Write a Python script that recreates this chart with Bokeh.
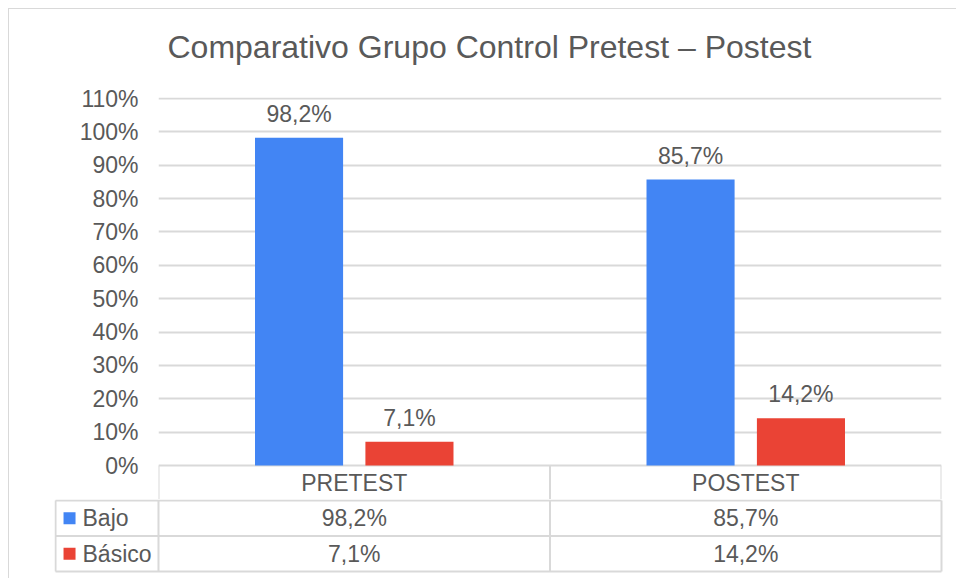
from bokeh.plotting import figure
from bokeh.models import (FactorRange, Range1d, FixedTicker, PrintfTickFormatter,
                          ColumnDataSource, Title)
from bokeh.transform import dodge
from bokeh.layouts import column
from bokeh.core.properties import value
from bokeh.embed import file_html
from bokeh.resources import INLINE

# ---- data ----
categories = ["PRETEST", "POSTEST"]
series_names = ["Bajo", "Básico"]
bajo = [98.2, 85.7]
basico = [7.1, 14.2]
y_ticks = [0, 10, 20, 30, 40, 50, 60, 70, 80, 90, 100, 110]
title_text = "Comparativo Grupo Control Pretest – Postest"

colors = ["#4285F4", "#EA4335"]
text_color = "#595959"
grid_color = "#d9d9d9"
FONT = "Liberation Sans"
FS = "23px"


def fmt(v):
    return f"{v:.1f}%".replace(".", ",")


series_values = [bajo, basico]

# ---- top chart (with header row of the data table) ----
p = figure(width=940, height=490, x_range=FactorRange(factors=categories, range_padding=0),
           y_range=Range1d(-10.19, 110.3), output_backend="svg", toolbar_location=None,
           min_border_left=149, min_border_right=8, min_border_top=88, min_border_bottom=0)
if "frame_align" in p.properties():
    p.frame_align = False
p.outline_line_color = None
p.xaxis.visible = False
p.xgrid.grid_line_color = None
p.ygrid.grid_line_color = grid_color
p.ygrid.grid_line_width = 2
p.yaxis.ticker = FixedTicker(ticks=y_ticks)
p.yaxis.formatter = PrintfTickFormatter(format="%d%%")
p.yaxis.axis_line_color = None
p.yaxis.major_tick_line_color = None
p.yaxis.minor_tick_line_color = None
p.yaxis.major_tick_out = 0
p.yaxis.major_tick_in = 0
p.yaxis.major_label_standoff = 20
p.yaxis.major_label_text_font = FONT
p.yaxis.major_label_text_font_size = FS
p.yaxis.major_label_text_color = text_color

# spacer between title and plot area
p.add_layout(Title(text=" ", text_font_size="10px", standoff=3), "above")

p.title.text = title_text
p.title.text_font = FONT
p.title.text_font_size = "32px"
p.title.text_font_style = "normal"
p.title.text_color = text_color
p.title.align = "left"
p.title.offset = 9
p.title.standoff = 33

offsets = [-0.141, 0.141]
bar_w = 0.225
for name, vals, col, off in zip(series_names, series_values, colors, offsets):
    src = ColumnDataSource(dict(cat=categories, val=vals, lab=[fmt(v) for v in vals]))
    p.vbar(x=dodge("cat", off, range=p.x_range), top="val", width=bar_w, source=src,
           fill_color=col, line_color=None)
    p.text(x=dodge("cat", off, range=p.x_range), y="val", text="lab", source=src,
           text_font=value(FONT), text_font_size=FS, text_color=text_color,
           text_align="center", text_baseline="alphabetic", y_offset=-24)

# header row: cell borders and category names
hsrc = ColumnDataSource(dict(cat=categories))
p.segment(x0=dodge("cat", -0.5, range=p.x_range), x1=dodge("cat", -0.5, range=p.x_range),
          y0=0, y1=-20, source=hsrc, line_color=grid_color, line_width=2)
last = ColumnDataSource(dict(cat=categories[-1:]))
p.segment(x0=dodge("cat", 0.5, range=p.x_range), x1=dodge("cat", 0.5, range=p.x_range),
          y0=0, y1=-20, source=last, line_color=grid_color, line_width=2)
p.text(x="cat", y=-5.1, text="cat", source=hsrc,
       text_font=value(FONT), text_font_size=FS, text_color=text_color,
       text_align="center", text_baseline="middle")

# ---- data table rows ----
n_cat = len(categories)
n_ser = len(series_names)
leg_w = 0.263
t = figure(width=940, height=75, x_range=Range1d(-0.2656, n_cat + 0.0051),
           y_range=Range1d(-0.0845, n_ser + 0.028), output_backend="svg",
           toolbar_location=None, min_border_left=45, min_border_right=6,
           min_border_top=0, min_border_bottom=0)
if "frame_align" in t.properties():
    t.frame_align = False
t.axis.visible = False
t.grid.visible = False
t.outline_line_color = None

hy = list(range(n_ser + 1))
t.segment(x0=[-leg_w] * len(hy), x1=[n_cat] * len(hy), y0=hy, y1=hy,
          line_color=grid_color, line_width=2)
vx = [-leg_w] + list(range(n_cat + 1))
t.segment(x0=vx, x1=vx, y0=[0] * len(vx), y1=[n_ser] * len(vx),
          line_color=grid_color, line_width=2)

for r, (name, vals, col) in enumerate(zip(series_names, series_values, colors)):
    yrow = n_ser - r - 0.5
    t.text(x=[i + 0.5 for i in range(n_cat)], y=[yrow] * n_cat, text=[fmt(v) for v in vals],
           text_font=value(FONT), text_font_size=FS, text_color=text_color,
           text_align="center", text_baseline="middle")
    t.scatter(x=[-leg_w + 0.0358], y=[yrow], marker="square", size=12,
              fill_color=col, line_color=None)
    t.text(x=[-leg_w + 0.069], y=[yrow], text=[name],
           text_font=value(FONT), text_font_size=FS, text_color=text_color,
           text_align="left", text_baseline="middle")

layout = column(p, t, spacing=0,
                styles={"margin-left": "8px", "margin-top": "8px",
                        "padding-right": "7px", "padding-bottom": "4px",
                        "border-left": "1px solid #d9d9d9", "border-top": "1px solid #d9d9d9"})

open("out.html", "w").write(file_html(layout, INLINE))
